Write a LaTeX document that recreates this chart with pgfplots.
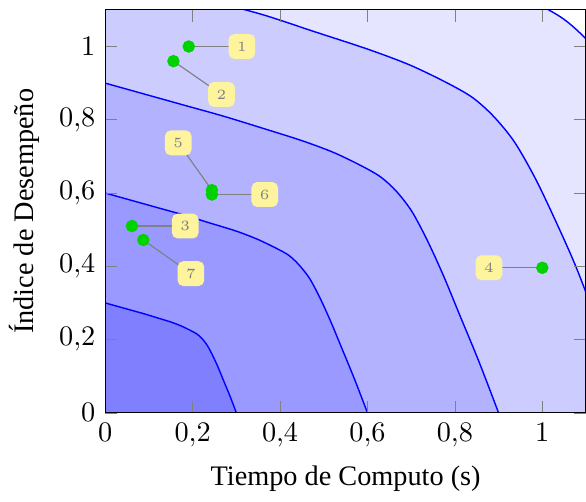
\documentclass[border=0pt]{standalone}
\usepackage{fontspec}
\setmainfont{Liberation Serif}
\usepackage{pgfplots}
\pgfplotsset{compat=1.18}
\definecolor{lbl}{RGB}{255,244,158}
\definecolor{mk}{RGB}{0,210,0}
\tikzset{lblbox/.style={fill=lbl, rounded corners=2pt, inner sep=0pt, minimum width=9.4pt, minimum height=8.8pt, font=\tiny}}
\begin{document}
\begin{tikzpicture}[trim axis right]
\begin{axis}[name=ax, scale only axis, width=170pt, height=142.5pt,
  xmin=0, xmax=1.1, ymin=0, ymax=1.1,
  xtick={0,0.2,0.4,0.6,0.8,1}, ytick={0,0.2,0.4,0.6,0.8,1},
  /pgf/number format/use comma,
  tick style={gray},
  axis on top,
  xlabel={Tiempo de Computo (s)},
  ylabel={Índice de Desempeño},
  clip=true]
% level 1.5
\addplot[draw=none, fill=blue!10, smooth] coordinates {(0,1.5) (0.15,1.45) (0.3,1.4) (0.45,1.35) (0.6,1.295) (0.75,1.239) (0.87,1.185) (0.975,1.125) (1.05,1.074) (1.11,1.008) (1.17,0.915) (1.23,0.78) (1.29,0.623) (1.35,0.45) (1.425,0.233) (1.5,0)} \closedcycle;
% level 1.2
\addplot[draw=none, fill=blue!20, smooth] coordinates {(0,1.2) (0.12,1.162) (0.24,1.125) (0.36,1.087) (0.48,1.04) (0.6,0.993) (0.696,0.95) (0.78,0.902) (0.84,0.861) (0.888,0.81) (0.936,0.74) (0.984,0.64) (1.032,0.52) (1.08,0.39) (1.14,0.2) (1.2,0)} \closedcycle;
% level 0.9
\addplot[draw=none, fill=blue!30, smooth] coordinates {(0,0.9) (0.09,0.87) (0.18,0.84) (0.27,0.81) (0.36,0.777) (0.45,0.743) (0.522,0.711) (0.585,0.675) (0.63,0.644) (0.666,0.605) (0.702,0.549) (0.738,0.468) (0.774,0.374) (0.81,0.27) (0.855,0.14) (0.9,0)} \closedcycle;
% level 0.6
\addplot[draw=none, fill=blue!40, smooth] coordinates {(0,0.6) (0.06,0.58) (0.12,0.56) (0.18,0.54) (0.24,0.518) (0.3,0.496) (0.348,0.474) (0.39,0.45) (0.42,0.43) (0.444,0.403) (0.468,0.366) (0.492,0.312) (0.516,0.249) (0.54,0.18) (0.57,0.093) (0.6,0)} \closedcycle;
% level 0.3
\addplot[draw=none, fill=blue!50, smooth] coordinates {(0,0.3) (0.03,0.29) (0.06,0.28) (0.09,0.27) (0.12,0.259) (0.15,0.248) (0.174,0.237) (0.195,0.225) (0.21,0.215) (0.222,0.202) (0.234,0.183) (0.246,0.156) (0.258,0.125) (0.27,0.09) (0.285,0.047) (0.3,0)} \closedcycle;
% contour lines
\addplot[blue, line width=0.5pt, smooth] coordinates {(0,1.5) (0.15,1.45) (0.3,1.4) (0.45,1.35) (0.6,1.295) (0.75,1.239) (0.87,1.185) (0.975,1.125) (1.05,1.074) (1.11,1.008) (1.17,0.915) (1.23,0.78) (1.29,0.623) (1.35,0.45) (1.425,0.233) (1.5,0)};
\addplot[blue, line width=0.5pt, smooth] coordinates {(0,1.2) (0.12,1.162) (0.24,1.125) (0.36,1.087) (0.48,1.04) (0.6,0.993) (0.696,0.95) (0.78,0.902) (0.84,0.861) (0.888,0.81) (0.936,0.74) (0.984,0.64) (1.032,0.52) (1.08,0.39) (1.14,0.2) (1.2,0)};
\addplot[blue, line width=0.5pt, smooth] coordinates {(0,0.9) (0.09,0.87) (0.18,0.84) (0.27,0.81) (0.36,0.777) (0.45,0.743) (0.522,0.711) (0.585,0.675) (0.63,0.644) (0.666,0.605) (0.702,0.549) (0.738,0.468) (0.774,0.374) (0.81,0.27) (0.855,0.14) (0.9,0)};
\addplot[blue, line width=0.5pt, smooth] coordinates {(0,0.6) (0.06,0.58) (0.12,0.56) (0.18,0.54) (0.24,0.518) (0.3,0.496) (0.348,0.474) (0.39,0.45) (0.42,0.43) (0.444,0.403) (0.468,0.366) (0.492,0.312) (0.516,0.249) (0.54,0.18) (0.57,0.093) (0.6,0)};
\addplot[blue, line width=0.5pt, smooth] coordinates {(0,0.3) (0.03,0.29) (0.06,0.28) (0.09,0.27) (0.12,0.259) (0.15,0.248) (0.174,0.237) (0.195,0.225) (0.21,0.215) (0.222,0.202) (0.234,0.183) (0.246,0.156) (0.258,0.125) (0.27,0.09) (0.285,0.047) (0.3,0)};
% annotations
\draw[gray, line width=0.4pt] (axis cs:0.191,1.0) -- (axis cs:0.3127,1.0) node[lblbox] {$1$};
\draw[gray, line width=0.4pt] (axis cs:0.156,0.960) -- (axis cs:0.266,0.869) node[lblbox] {$2$};
\draw[gray, line width=0.4pt] (axis cs:0.061,0.510) -- (axis cs:0.183,0.510) node[lblbox] {$3$};
\draw[gray, line width=0.4pt] (axis cs:1.0,0.396) -- (axis cs:0.878,0.396) node[lblbox] {$4$};
\draw[gray, line width=0.4pt] (axis cs:0.244,0.608) -- (axis cs:0.167,0.737) node[lblbox] {$5$};
\draw[gray, line width=0.4pt] (axis cs:0.244,0.596) -- (axis cs:0.365,0.596) node[lblbox] {$6$};
\draw[gray, line width=0.4pt] (axis cs:0.087,0.472) -- (axis cs:0.196,0.380) node[lblbox] {$7$};
% points
\addplot[only marks, mark=*, mark size=2pt, mark options={fill=mk, draw=mk}] coordinates {(0.191,1.0) (0.156,0.960) (0.061,0.510) (1.0,0.396) (0.244,0.608) (0.244,0.596) (0.087,0.472)};
\end{axis}
\path (ax.north west) ++(0,3.5pt);
\end{tikzpicture}
\end{document}
